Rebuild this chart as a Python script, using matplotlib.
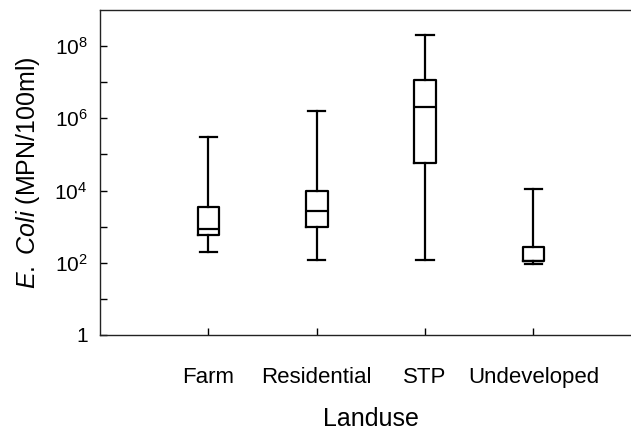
import matplotlib
matplotlib.use("Agg")
import matplotlib.pyplot as plt
from matplotlib.ticker import FixedLocator, NullFormatter

plt.rcParams['font.family'] = ['Liberation Sans', 'DejaVu Sans']
plt.rcParams['mathtext.fontset'] = 'custom'
plt.rcParams['mathtext.rm'] = 'Liberation Sans'
plt.rcParams['mathtext.it'] = 'Liberation Sans:italic'
plt.rcParams['mathtext.bf'] = 'Liberation Sans:bold'

categories = ['Farm', 'Residential', 'STP', 'Undeveloped']
whisker_low = [203, 120, 120, 91]
q1 = [590, 1000, 5.7e4, 115]
median = [850, 2800, 2.0e6, 115]
q3 = [3400, 9700, 1.16e7, 280]
whisker_high = [3.0e5, 1.6e6, 2.0e8, 1.1e4]

ytick_values = [1, 1e2, 1e4, 1e6, 1e8]
ytick_labels = ['1', '$10^{2}$', '$10^{4}$', '$10^{6}$', '$10^{8}$']
minor_values = [1e1, 1e3, 1e5, 1e7]

fig = plt.figure(figsize=(6.31, 4.34), dpi=100)
ax = fig.add_axes([100/631, 99/434, 541.7/631, 325/434])

stats = []
for i, c in enumerate(categories):
    stats.append(dict(label=c, whislo=whisker_low[i], q1=q1[i], med=median[i],
                      q3=q3[i], whishi=whisker_high[i], fliers=[]))
positions = list(range(1, len(categories) + 1))
lw = 1.6
ax.bxp(stats, positions=positions, widths=0.2, showfliers=False,
       boxprops=dict(color='black', linewidth=lw),
       medianprops=dict(color='black', linewidth=lw),
       whiskerprops=dict(color='black', linewidth=lw),
       capprops=dict(color='black', linewidth=lw),
       capwidths=0.16)

ax.set_yscale('log')
ax.set_ylim(1, 1e9)
ax.set_xlim(0, 5)
ax.yaxis.set_major_locator(FixedLocator(ytick_values))
ax.set_yticklabels(ytick_labels)
ax.yaxis.set_minor_locator(FixedLocator(minor_values))
ax.yaxis.set_minor_formatter(NullFormatter())
ax.set_xticks(positions)
ax.set_xticklabels(categories)

ax.spines['right'].set_visible(False)
for s in ['left', 'bottom', 'top']:
    ax.spines[s].set_linewidth(1.0)
    ax.spines[s].set_color('#222222')

ax.tick_params(axis='y', which='both', direction='in', length=5, width=1.0,
               labelsize=15, pad=9)
ax.tick_params(axis='x', which='major', direction='in', length=5, width=1.0,
               labelsize=16, pad=23)
ax.tick_params(axis='x', which='minor', bottom=False)

ax.set_xlabel('Landuse', fontsize=18, labelpad=14)
ax.set_ylabel(r'$\it{E.}$ $\it{Coli}$ (MPN/100ml)', fontsize=18, labelpad=9)

fig.savefig('out.png', dpi=100)
